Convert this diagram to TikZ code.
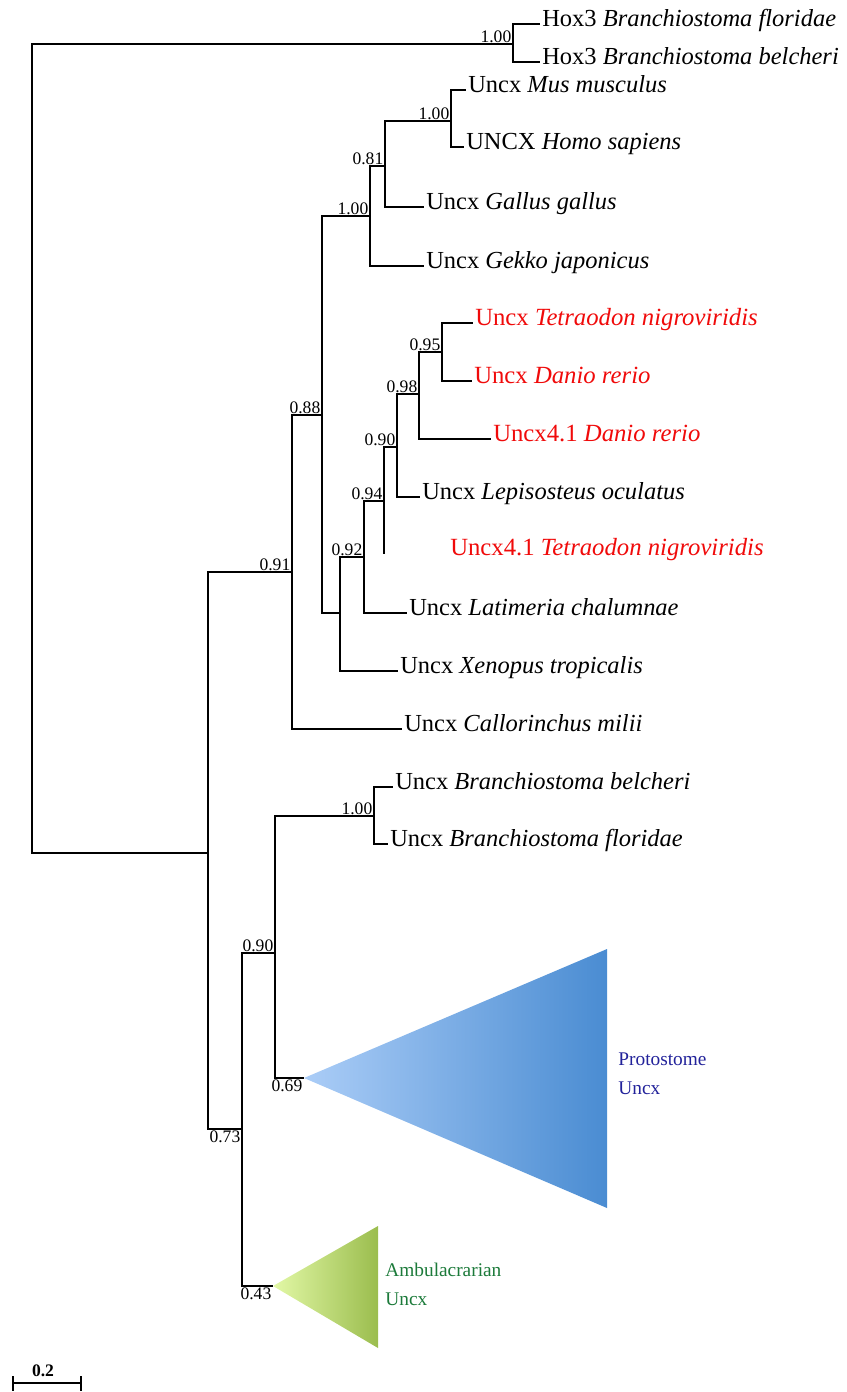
\documentclass[tikz,border=0pt]{standalone}
\usepackage{fontspec}
\setmainfont{Liberation Serif}
\definecolor{fishred}{HTML}{F00A0A}
\definecolor{protoL}{HTML}{ABCDF7}
\definecolor{protoR}{HTML}{4A8CD2}
\definecolor{protoT}{HTML}{22229A}
\definecolor{ambL}{HTML}{E2F8A6}
\definecolor{ambR}{HTML}{9BBD4E}
\definecolor{ambT}{HTML}{1C7A3A}

\begin{document}
\begin{tikzpicture}[x=0.03cm, y=-0.03cm, line width=0.9pt,
    taxon/.style={anchor=west, inner sep=1.5pt, text height=0.68em, text depth=0.2em,
      font=\fontsize{20.9}{24}\selectfont},
    fish/.style={taxon, text=fishred, font=\fontsize{21.1}{24}\selectfont},
    supp/.style={inner sep=1pt, font=\fontsize{15}{17}\selectfont},
    over/.style={supp, anchor=south east},
    under/.style={supp, anchor=north east},
    group/.style={anchor=west, align=left, font=\fontsize{16.5}{24.7}\selectfont}]
  \useasboundingbox (0,0) rectangle (847,1392);

  % internal nodes
  \coordinate (R) at (32,450);
  \coordinate (H) at (513,44);
  \coordinate (A) at (208,853);
  \coordinate (B) at (292,572);
  \coordinate (C) at (242,1129);
  \coordinate (D) at (322,415);
  \coordinate (E) at (370,216);
  \coordinate (G) at (385,166);
  \coordinate (Hm) at (451,121);
  \coordinate (F) at (340,613);
  \coordinate (I) at (364,557);
  \coordinate (J) at (384,501);
  \coordinate (K) at (397,447);
  \coordinate (L) at (419,394);
  \coordinate (M) at (442,352);
  \coordinate (N) at (275,953);
  \coordinate (O) at (374,816);
  \coordinate (t41end) at (384,554);
  \coordinate (proto) at (304,1078);
  \coordinate (amb) at (273,1286);

  % leaves
  \node[taxon] (hoxf) at (540,24) {Hox3 \textit{Branchiostoma floridae}};
  \node[taxon] (hoxb) at (540,62) {Hox3 \textit{Branchiostoma belcheri}};
  \node[taxon] (mus) at (466,90) {Uncx \textit{Mus musculus}};
  \node[taxon] (homo) at (464,147) {UNCX \textit{Homo sapiens}};
  \node[taxon] (gallus) at (424,207) {Uncx \textit{Gallus gallus}};
  \node[taxon] (gekko) at (424,266) {Uncx \textit{Gekko japonicus}};
  \node[fish] (tetra) at (473,323) {Uncx \textit{Tetraodon nigroviridis}};
  \node[fish] (danio) at (472,381) {Uncx \textit{Danio rerio}};
  \node[fish] (danio41) at (491,439) {Uncx4.1 \textit{Danio rerio}};
  \node[taxon] (lepis) at (420,497) {Uncx \textit{Lepisosteus oculatus}};
  \node[fish] (tetra41) at (448,553) {Uncx4.1 \textit{Tetraodon nigroviridis}};
  \node[taxon] (latim) at (407,613) {Uncx \textit{Latimeria chalumnae}};
  \node[taxon] (xeno) at (398,671) {Uncx \textit{Xenopus tropicalis}};
  \node[taxon] (callo) at (402,729) {Uncx \textit{Callorinchus milii}};
  \node[taxon] (bbel) at (393,787) {Uncx \textit{Branchiostoma belcheri}};
  \node[taxon] (bflo) at (388,844) {Uncx \textit{Branchiostoma floridae}};

  % collapsed clades
  \shade[left color=protoL, right color=protoR] (proto) -- (607,949) -- (607,1208) -- cycle;
  \shade[left color=ambL, right color=ambR] (amb) -- (378,1226) -- (378,1348) -- cycle;
  \node[group, text=protoT] (protolab) at (614,1074) {Protostome\\Uncx};
  \node[group, text=ambT] (amblab) at (381,1284) {Ambulacrarian\\Uncx};

  % branches
  \draw (R) |- (H);
  \draw (R) |- (A);
  \draw (H) |- (hoxf.west);
  \draw (H) |- (hoxb.west);
  \draw (A) |- (B);
  \draw (A) |- (C);
  \draw (B) |- (D);
  \draw (B) |- (callo.west);
  \draw (D) |- (E);
  \draw (D) |- (F);
  \draw (E) |- (G);
  \draw (E) |- (gekko.west);
  \draw (G) |- (Hm);
  \draw (G) |- (gallus.west);
  \draw (Hm) |- (mus.west);
  \draw (Hm) |- (homo.west);
  \draw (F) |- (I);
  \draw (F) |- (xeno.west);
  \draw (I) |- (J);
  \draw (I) |- (latim.west);
  \draw (J) |- (K);
  \draw (J) |- (t41end);
  \draw (K) |- (L);
  \draw (K) |- (lepis.west);
  \draw (L) |- (M);
  \draw (L) |- (danio41.west);
  \draw (M) |- (tetra.west);
  \draw (M) |- (danio.west);
  \draw (C) |- (N);
  \draw (C) |- (amb);
  \draw (N) |- (O);
  \draw (N) |- (proto);
  \draw (O) |- (bbel.west);
  \draw (O) |- (bflo.west);

  % support values
  \node[over] (sH) at (H) {1.00};
  \node[over] (sHm) at (Hm) {1.00};
  \node[over] (sG) at (G) {0.81};
  \node[over] (sE) at (E) {1.00};
  \node[over] (sD) at (D) {0.88};
  \node[over] (sB) at (B) {0.91};
  \node[over] (sM) at (M) {0.95};
  \node[over] (sL) at (L) {0.98};
  \node[over] (sK) at (K) {0.90};
  \node[over] (sJ) at (J) {0.94};
  \node[over] (sI) at (I) {0.92};
  \node[over] (sO) at (O) {1.00};
  \node[over] (sN) at (N) {0.90};
  \node[under] (sP) at (proto) {0.69};
  \node[under] (sC) at (C) {0.73};
  \node[under] (sA) at (amb) {0.43};

  % scale bar
  \coordinate (s0) at (13,1383);
  \coordinate (s1) at (81,1383);
  \draw (s0) -- (s1);
  \draw (s0) ++(0,-7) -- ++(0,15);
  \draw (s1) ++(0,-7) -- ++(0,15);
  \node[supp, font=\fontsize{15}{17}\selectfont\bfseries, anchor=south] (sbar) at (43,1378) {0.2};
\end{tikzpicture}
\end{document}
